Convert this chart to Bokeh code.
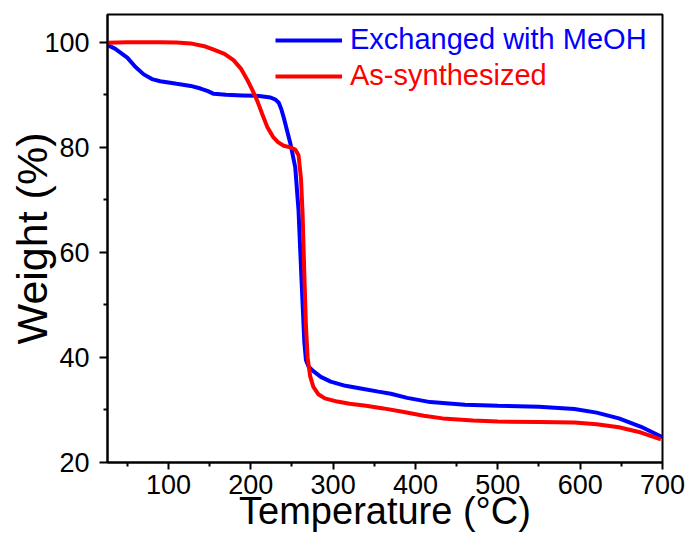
from bokeh.plotting import figure
from bokeh.models import Range1d, FixedTicker, Legend, LegendItem
from bokeh.embed import file_html
from bokeh.resources import INLINE

# ---- data ----
meoh_temp = [26, 35, 50, 60, 70, 80, 90, 110, 127, 139, 148, 155, 170, 190, 210, 224,
             230, 234, 237, 240, 248, 254, 258, 261, 263, 265, 267, 270, 276, 285, 297, 315,
             337, 355, 370, 390, 418, 460, 500, 550, 593, 620, 647, 674, 700]
meoh_weight = [99.5, 98.8, 97.1, 95.3, 93.9, 93.0, 92.6, 92.1, 91.7, 91.2, 90.7, 90.2,
               90.0, 89.9, 89.8, 89.5, 89.1, 88.5, 87.3, 85.7, 80.8, 76.2, 68.0, 57.0, 50.0,
               43.0, 39.5, 38.3, 37.4, 36.3, 35.4, 34.6, 34.0, 33.5, 33.1, 32.3, 31.5,
               31.0, 30.8, 30.6, 30.2, 29.5, 28.4, 26.8, 24.8]

as_temp = [26, 50, 90, 110, 127, 145, 155, 168, 179, 188, 196, 202, 208, 214, 220, 227, 233,
           240, 248, 254, 258, 261, 263, 265, 267, 269, 272, 276, 282, 290, 305, 320,
           340, 361, 386, 410, 433, 470, 500, 550, 593, 620, 647, 674, 698]
as_weight = [99.9, 100.0, 100.0, 99.95, 99.8, 99.2, 98.6, 97.8, 96.6, 95.0, 92.8, 90.9, 88.8,
             86.3, 83.9, 82.0, 81.0, 80.3, 80.0, 79.6, 78.5, 74.0, 67.0, 56.0, 46.0,
             40.0, 36.5, 34.4, 33.0, 32.2, 31.6, 31.2, 30.8, 30.3, 29.6, 28.9, 28.4,
             28.0, 27.8, 27.7, 27.6, 27.3, 26.7, 25.7, 24.4]

x_ticks = [100, 200, 300, 400, 500, 600, 700]
y_ticks = [20, 40, 60, 80, 100]
label_meoh = "Exchanged with MeOH"
label_as = "As-synthesized"
x_title = "Temperature (°C)"
y_title = "Weight (%)"

FONT = "Liberation Sans"
BLUE = "#0000FF"
RED = "#FF0000"

p = figure(width=685, height=541, output_backend="svg", toolbar_location=None,
           x_range=Range1d(26, 700), y_range=Range1d(20, 105.3),
           min_border_left=107, min_border_right=23, min_border_top=14,
           min_border_bottom=79)

p.xgrid.visible = False
p.ygrid.visible = False
p.outline_line_color = "black"
p.outline_line_width = 2
p.background_fill_color = "white"
p.border_fill_color = "white"

for ax, ticks in ((p.xaxis[0], x_ticks), (p.yaxis[0], y_ticks)):
    step = ticks[1] - ticks[0]
    ax.ticker = FixedTicker(ticks=ticks,
                            minor_ticks=[t - step / 2 for t in ticks] + [ticks[-1] + step / 2])
    ax.axis_line_width = 2
    ax.axis_line_color = "black"
    ax.major_tick_line_width = 2
    ax.minor_tick_line_width = 2
    ax.major_tick_in = 0
    ax.minor_tick_in = 0
    ax.major_label_text_font = FONT
    ax.major_label_text_font_size = "27px"
    ax.major_label_text_color = "black"
    ax.axis_label_text_font = FONT
    ax.axis_label_text_font_style = "normal"
    ax.axis_label_text_color = "black"

p.xaxis.axis_label = x_title
p.yaxis.axis_label = y_title
p.xaxis.axis_label_text_font_size = "38px"
p.yaxis.axis_label_text_font_size = "43px"
p.xaxis.major_tick_out = 7
p.xaxis.minor_tick_out = 4
p.xaxis.major_label_standoff = 5
p.xaxis.axis_label_standoff = -7
p.yaxis.major_tick_out = 8
p.yaxis.minor_tick_out = 4
p.yaxis.major_label_standoff = 10
p.yaxis.axis_label_standoff = -15

r_meoh = p.line(meoh_temp, meoh_weight, line_color=BLUE, line_width=4)
r_as = p.line(as_temp, as_weight, line_color=RED, line_width=4)

for renderer, lab, col, y in ((r_meoh, label_meoh, BLUE, 406), (r_as, label_as, RED, 370)):
    lg = Legend(items=[LegendItem(label=lab, renderers=[renderer])],
                location=(168, y), glyph_width=67, glyph_height=30,
                label_height=30, label_standoff=8, padding=0, margin=0,
                border_line_alpha=0, background_fill_alpha=0,
                label_text_font=FONT, label_text_font_size="29px",
                label_text_color=col)
    p.add_layout(lg)

open("out.html", "w").write(file_html(p, INLINE))
